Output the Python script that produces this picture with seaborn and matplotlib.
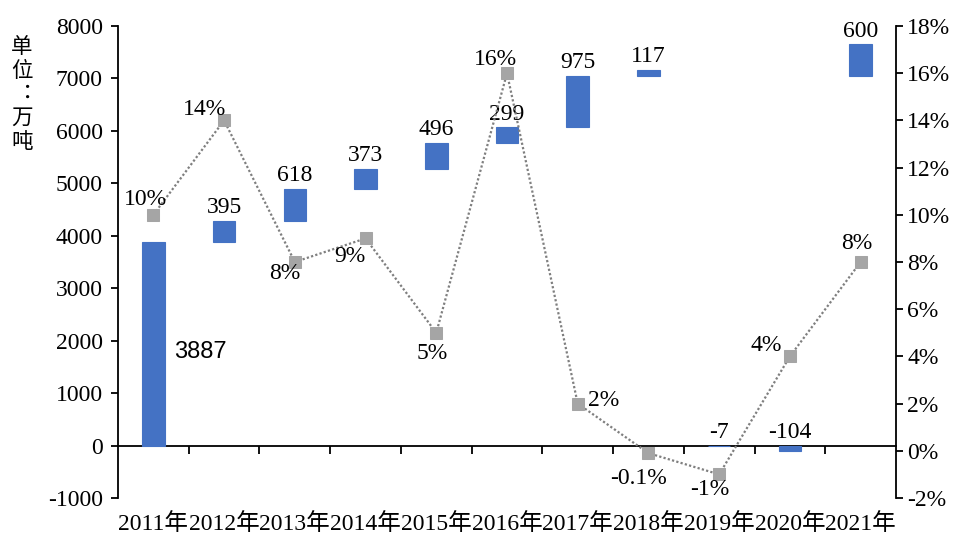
import numpy as np
import pandas as pd
import matplotlib
matplotlib.use("Agg")
import matplotlib.pyplot as plt
import seaborn as sns

# Annual output increments (10k tonnes) and growth rate (%)
years = ["2011年", "2012年", "2013年", "2014年", "2015年", "2016年",
         "2017年", "2018年", "2019年", "2020年", "2021年"]
increments = [3887, 395, 618, 373, 496, 299, 975, 117, -7, -104, 600]
growth = [10, 14, 8, 9, 5, 16, 2, -0.1, -1, 4, 8]
growth_labels = ["10%", "14%", "8%", "9%", "5%", "16%", "2%", "-0.1%", "-1%", "4%", "8%"]

left_ticks = list(range(-1000, 8001, 1000))
right_ticks = list(range(-2, 19, 2))

sns.set_theme(style="white")
plt.rcParams["font.family"] = ["Liberation Serif", "Noto Sans CJK SC"]
plt.rcParams["text.color"] = "black"
plt.rcParams["xtick.color"] = "black"
plt.rcParams["ytick.color"] = "black"
plt.rcParams["axes.labelcolor"] = "black"

BAR = "#4472C4"
LINE = "#7F7F7F"
MARK = "#A5A5A5"
FS = 17

df = pd.DataFrame({"year": years, "inc": increments})

fig = plt.figure(figsize=(9.55, 5.38), dpi=100)
ax = fig.add_axes([118 / 955, 1 - 498 / 538, (896 - 118) / 955, (498 - 26) / 538])

sns.barplot(data=df, x="year", y="inc", color=BAR, saturation=1, width=0.32,
            ax=ax, zorder=2)

# Waterfall: positive steps float on the running total, declines hang from zero
running = 0
bases = []
for v in increments:
    if v >= 0:
        bases.append(running)
    else:
        bases.append(0)
    running += v
for patch, b in zip(ax.patches, bases):
    patch.set_y(patch.get_y() + b)
    patch.set_edgecolor(BAR)
    patch.set_linewidth(0.8)

ymin, ymax = left_ticks[0], left_ticks[-1]
ax.set_ylim(ymin, ymax)
ax.set_xlim(-0.5, len(years) - 0.5)
ax.set_yticks(left_ticks)
ax.set_yticklabels([str(t) for t in left_ticks], fontsize=FS,
                   family="Liberation Serif")
ax.set_xlabel("")
ax.set_ylabel("")
ax.tick_params(axis="y", direction="out", length=5, width=1.3, color="black",
               left=True, pad=6)
ax.tick_params(axis="x", length=0, pad=11, labelsize=FS)
for lbl in ax.get_xticklabels():
    lbl.set_family(["Liberation Serif", "Noto Sans CJK SC"])

for s in ["top", "right", "bottom"]:
    ax.spines[s].set_visible(False)
ax.spines["left"].set_color("black")
ax.spines["left"].set_linewidth(1.3)

# Category axis line drawn at zero with boundary ticks
zero_frac = (0 - ymin) / (ymax - ymin)
sec = ax.secondary_xaxis(zero_frac)
sec.xaxis.set_ticks_position("bottom")
sec.set_xticks(np.arange(len(years) - 1) + 0.5)
sec.set_xticklabels([])
sec.tick_params(axis="x", direction="out", length=6, width=1.3, color="black",
                labelbottom=False, labeltop=False, bottom=True, top=False)
sec.spines["bottom"].set_color("black")
sec.spines["bottom"].set_linewidth(1.3)
sec.spines["top"].set_visible(False)

# Bar value labels
for i, (v, b) in enumerate(zip(increments, bases)):
    if i == 0:
        ax.annotate(str(v), (i, b + v / 2), xytext=(34, -6), textcoords="offset points",
                    ha="center", va="center", fontsize=FS, family="Liberation Sans")
    elif v >= 0:
        ax.annotate(str(v), (i, b + v), xytext=(0, 2), textcoords="offset points",
                    ha="center", va="bottom", fontsize=FS, family="Liberation Serif")
    else:
        ax.annotate(str(v), (i, 0), xytext=(0, 2), textcoords="offset points",
                    ha="center", va="bottom", fontsize=FS, family="Liberation Serif")

# Growth rate on the secondary axis
ax2 = ax.twinx()
sns.lineplot(x=np.arange(len(years)), y=growth, ax=ax2, color=LINE,
             linestyle=(0, (1, 1)), linewidth=1.6, marker="s", markersize=9,
             markerfacecolor=MARK, markeredgecolor=MARK, zorder=3)
ax2.set_ylim(right_ticks[0], right_ticks[-1])
ax2.set_yticks(right_ticks)
ax2.set_yticklabels([f"{t}%" for t in right_ticks], fontsize=FS,
                    family="Liberation Serif")
ax2.set_ylabel("")
ax2.tick_params(axis="y", direction="out", length=5, width=1.3, color="black",
                right=True, pad=3)
for s in ["top", "left", "bottom"]:
    ax2.spines[s].set_visible(False)
ax2.spines["right"].set_color("black")
ax2.spines["right"].set_linewidth(1.3)
ax2.grid(False)
ax.grid(False)

pct_offsets = [(-6, 11), (-14, 8), (-7, -8), (-11, -13), (-3, -15), (-8, 10),
               (19, 2), (-7, -18), (-7, -11), (-17, 8), (-3, 13)]
for i, (g, t, off) in enumerate(zip(growth, growth_labels, pct_offsets)):
    ax2.annotate(t, (i, g), xytext=off, textcoords="offset points",
                 ha="center", va="center", fontsize=FS, family="Liberation Serif")

fig.text(22 / 955, 1 - 36 / 538, "单\n位\n︓\n万\n吨", ha="center", va="top",
         fontsize=15.5, family=["Noto Sans CJK SC", "DejaVu Sans"], linespacing=1.1)

fig.savefig("out.png", dpi=100, facecolor="white")
